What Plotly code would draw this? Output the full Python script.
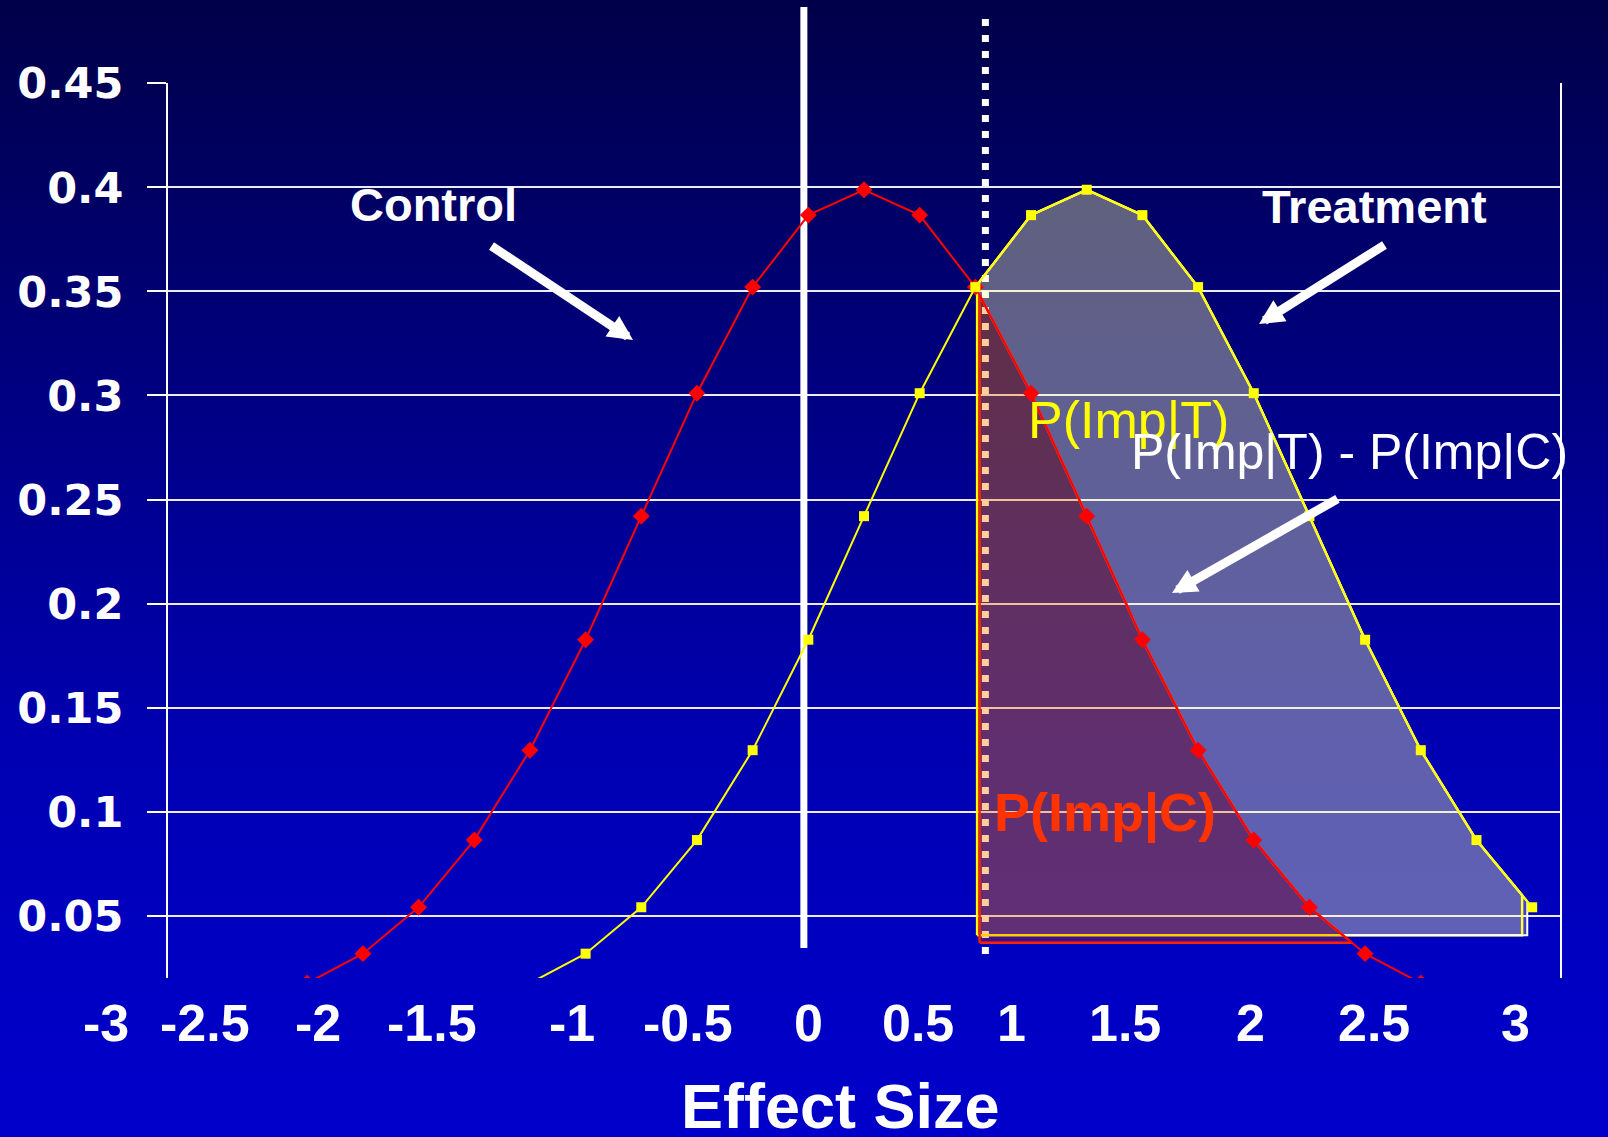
import numpy as np
import plotly.graph_objects as go

# ---------------- data ----------------
EFFECT = [-3.0, -2.75, -2.5, -2.25, -2.0, -1.75, -1.5, -1.25, -1.0, -0.75, -0.5, -0.25,
          0.0, 0.25, 0.5, 0.75, 1.0, 1.25, 1.5, 1.75, 2.0, 2.25, 2.5, 2.75, 3.0]
CONTROL = [None, None, 0.0175, 0.0317, 0.054, 0.0863, 0.1295, 0.1826, 0.242, 0.3011,
           0.3521, 0.3867, 0.3989, 0.3867, 0.3521, 0.3011, 0.242, 0.1826, 0.1295,
           0.0863, 0.054, 0.0317, 0.0175, None, None]
TREATMENT = [None, None, None, None, None, None, 0.0175, 0.0317, 0.054, 0.0863, 0.1295,
             0.1826, 0.242, 0.3011, 0.3521, 0.3867, 0.3989, 0.3867, 0.3521, 0.3011,
             0.242, 0.1826, 0.1295, 0.0863, 0.054]
Y_TICKS = [0.05, 0.1, 0.15, 0.2, 0.25, 0.3, 0.35, 0.4, 0.45]
Y_TICK_TEXT = ["0.05", "0.1", "0.15", "0.2", "0.25", "0.3", "0.35", "0.4", "0.45"]
X_TICK_TEXT = ["-3", "-2.5", "-2", "-1.5", "-1", "-0.5", "0", "0.5", "1", "1.5", "2", "2.5", "3"]

# ---------------- layout geometry / style ----------------
W, H = 1608, 1137
ML, MR, MT, MB = 168, 48, 83, 159
PW, PH = W - ML - MR, H - MT - MB
XMIN, XMAX = -3.125, 3.125
YMIN, YMAX = 0.02, 0.4502

X_TICK_PX = [106, 205, 318, 432, 572, 688, 808, 918, 1011, 1125, 1250, 1374, 1515]
X_TICK_PY = 1023

CUT_T, CUT_C = 0.508, 0.519      # left edge of shaded regions
END_T, END_W = 2.955, 2.978      # right edge of shaded regions
BASE_T, BASE_C = 0.0405, 0.037   # bottom of shaded regions
SOLID_X, DOTTED_X = -0.27, 0.545


def fx(px):
    return (px - ML) / PW


def fy(py):
    return (H - MB - py) / PH


def xd(x):
    return (x - XMIN) / (XMAX - XMIN)


ex = np.array(EFFECT)


def series(vals):
    m = np.array([v is not None for v in vals])
    return ex[m], np.array([v for v in vals if v is not None], dtype=float)


cx, cy = series(CONTROL)
tx, ty = series(TREATMENT)


def curve(x, y, a, b):
    inner = (x > a) & (x < b)
    xs = np.concatenate([[a], x[inner], [b]])
    return list(xs), list(np.interp(xs, x, y))


def descend_cross(x, y, level):
    right = x >= x[np.argmax(y)]
    xr, yr = x[right], y[right]
    return float(np.interp(level, yr[::-1], xr[::-1]))


# ---------------- figure ----------------
fig = go.Figure()
shapes = []

# background gradient (navy -> blue)
stops = [(0, 72), (250, 108), (500, 145), (750, 178), (1000, 196), (1137, 202)]
sy = [s[0] for s in stops]
sb = [s[1] for s in stops]
step = 8
for py in range(0, H, step):
    b = int(round(np.interp(py + step / 2, sy, sb)))
    shapes.append(dict(type="rect", xref="paper", yref="paper", layer="below",
                       x0=fx(-5), x1=fx(W + 5), y0=fy(py + step + 1), y1=fy(py),
                       line=dict(width=0), fillcolor=f"rgb(0,0,{b})"))

# vertical reference lines
shapes.append(dict(type="line", xref="paper", yref="paper", layer="below",
                   x0=xd(SOLID_X), x1=xd(SOLID_X), y0=fy(7), y1=fy(948),
                   line=dict(color="white", width=7)))
shapes.append(dict(type="line", xref="paper", yref="paper", layer="below",
                   x0=xd(DOTTED_X), x1=xd(DOTTED_X), y0=fy(19), y1=fy(956),
                   line=dict(color="white", width=7, dash="7px,9px")))

# shaded region: area under treatment curve (yellow outline)
tpx, tpy = curve(tx, ty, CUT_T, END_T)
fig.add_trace(go.Scatter(
    x=[CUT_T] + tpx + [END_T, CUT_T], y=[BASE_T] + tpy + [BASE_T, BASE_T],
    mode="lines", fill="toself", fillcolor="rgba(255,255,0,0.17)",
    line=dict(color="#FFFF00", width=2.5), hoverinfo="skip"))

# shaded region: difference (white outline)
wtx, wty = curve(tx, ty, CUT_T, END_W)
xcT = descend_cross(cx, cy, BASE_T)
wbx, wby = curve(cx, cy, CUT_T, xcT)
fig.add_trace(go.Scatter(
    x=wtx + [END_W, xcT] + wbx[::-1], y=wty + [BASE_T, BASE_T] + wby[::-1],
    mode="lines", fill="toself", fillcolor="rgba(255,255,255,0.25)",
    line=dict(color="white", width=2), hoverinfo="skip"))

# shaded region: area under control curve (red outline)
xcC = descend_cross(cx, cy, BASE_C)
rbx, rby = curve(cx, cy, CUT_C, xcC)
fig.add_trace(go.Scatter(
    x=[CUT_C] + rbx + [CUT_C], y=[BASE_C] + rby + [BASE_C],
    mode="lines", fill="toself", fillcolor="rgba(255,60,0,0.25)",
    line=dict(color="#FF2200", width=2.5), hoverinfo="skip"))

# data series
fig.add_trace(go.Scatter(
    x=EFFECT, y=CONTROL, mode="lines+markers", name="Control",
    line=dict(color="#FF0000", width=2),
    marker=dict(symbol="diamond", size=13, color="#FF0000")))
fig.add_trace(go.Scatter(
    x=EFFECT, y=TREATMENT, mode="lines+markers", name="Treatment",
    line=dict(color="#FFFF00", width=2),
    marker=dict(symbol="square", size=10, color="#FFFF00")))

ARIAL = "Liberation Sans, Arial, sans-serif"
ann = []
for t, px in zip(X_TICK_TEXT, X_TICK_PX):
    ann.append(dict(text=t, xref="paper", yref="paper", x=fx(px), y=fy(X_TICK_PY),
                    showarrow=False, xanchor="center", yanchor="middle",
                    font=dict(family=ARIAL, size=52, color="white", weight="bold")))

ann.append(dict(text="Effect Size", xref="paper", yref="paper", x=fx(840), y=fy(1106),
                showarrow=False, xanchor="center", yanchor="middle",
                font=dict(family=ARIAL, size=63, color="white", weight="bold")))
ann.append(dict(text="Control", xref="paper", yref="paper", x=fx(433), y=fy(205),
                showarrow=False, xanchor="center", yanchor="middle",
                font=dict(family=ARIAL, size=47, color="white", weight="bold")))
ann.append(dict(text="Treatment", xref="paper", yref="paper", x=fx(1374), y=fy(206),
                showarrow=False, xanchor="center", yanchor="middle",
                font=dict(family=ARIAL, size=47, color="white", weight="bold")))
ann.append(dict(text="P(Imp|T)", xref="paper", yref="paper", x=fx(1128), y=fy(420),
                showarrow=False, xanchor="center", yanchor="middle",
                font=dict(family=ARIAL, size=52, color="#FFFF00")))
ann.append(dict(text="P(Imp|T) - P(Imp|C)", xref="paper", yref="paper", x=fx(1349), y=fy(452),
                showarrow=False, xanchor="center", yanchor="middle",
                font=dict(family=ARIAL, size=50, color="white")))
ann.append(dict(text="P(Imp|C)", xref="paper", yref="paper", x=fx(1105), y=fy(813),
                showarrow=False, xanchor="center", yanchor="middle",
                font=dict(family=ARIAL, size=54, color="#FF3300", weight="bold")))

# arrows (tip, tail) in pixels
for (tipx, tipy, tailx, taily) in [(633, 340, 490, 245),
                                   (1259, 324, 1386, 244),
                                   (1172, 593, 1339, 498)]:
    ann.append(dict(text="", xref="paper", yref="paper", x=fx(tipx), y=fy(tipy),
                    ax=tailx - tipx, ay=taily - tipy, showarrow=True,
                    arrowhead=2, arrowsize=0.55, arrowwidth=9, arrowcolor="white",
                    standoff=0, startstandoff=0))

fig.update_layout(
    width=W, height=H,
    margin=dict(l=ML, r=MR, t=MT, b=MB, pad=0, autoexpand=False),
    paper_bgcolor="#000090", plot_bgcolor="rgba(0,0,0,0)",
    showlegend=False,
    shapes=shapes, annotations=ann,
    xaxis=dict(range=[XMIN, XMAX], visible=False, fixedrange=True),
    yaxis=dict(range=[YMIN, YMAX], tickvals=Y_TICKS, ticktext=Y_TICK_TEXT,
               showgrid=True, gridcolor="rgba(255,255,255,0.92)", gridwidth=2,
               showline=True, linecolor="white", linewidth=2, mirror=True,
               ticks="outside", ticklen=19, tickwidth=2, tickcolor="white",
               ticklabelstandoff=15, zeroline=False, fixedrange=True,
               tickfont=dict(family="DejaVu Sans", size=43, color="white", weight="bold")),
)

fig.write_html("out.html", config={"displayModeBar": False})
